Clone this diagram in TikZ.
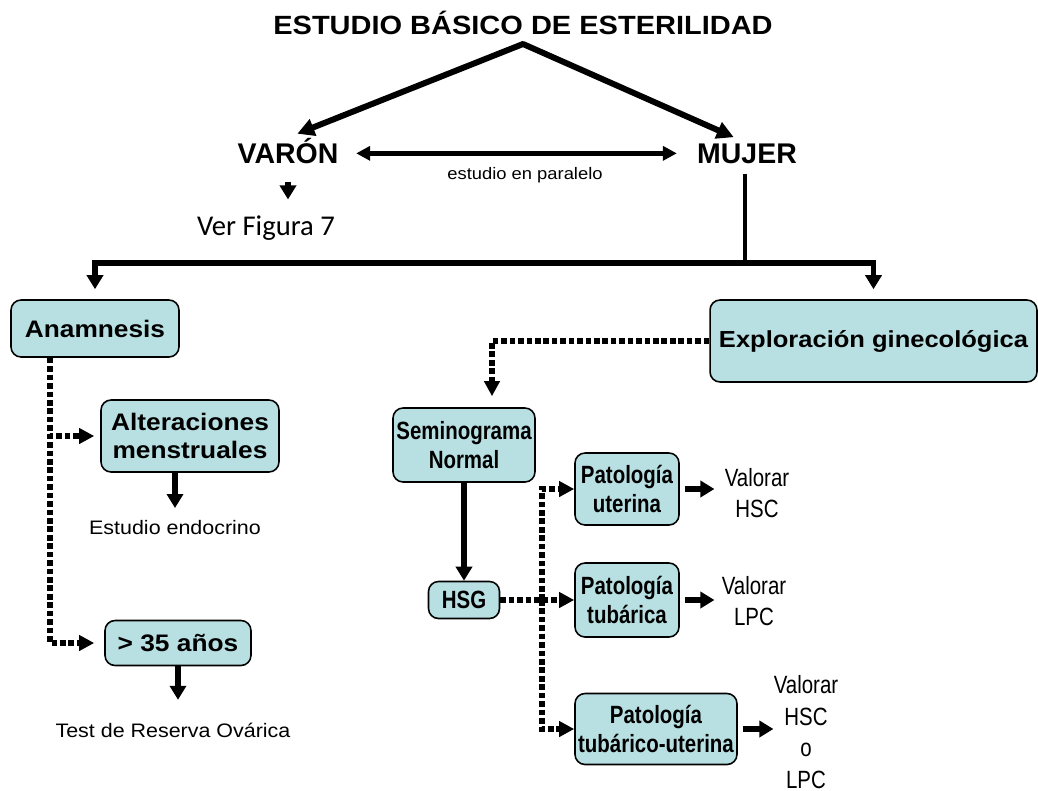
\documentclass[tikz,border=0pt]{standalone}
\usepackage{fontspec}
\setmainfont{Liberation Sans}
\newfontfamily\widesf[FakeStretch=1.1]{Liberation Sans}
\newfontfamily\narrowsf[FakeStretch=0.82]{Liberation Sans}
\newfontfamily\calib{Carlito}
\usepackage{tikz}
\usetikzlibrary{arrows.meta,positioning}
\definecolor{cajacel}{RGB}{184,224,227}

\begin{document}
\begin{tikzpicture}[x=0.02cm, y=-0.02cm,
	caja/.style={draw,rounded corners=0.2cm,fill=cajacel,line width=0.9pt,inner sep=0pt,align=center},
	izq/.style={caja,font=\widesf\bfseries\fontsize{13.6}{16.4}\selectfont},
	der/.style={caja,font=\narrowsf\bfseries\fontsize{14.2}{16.4}\selectfont},
	txt/.style={inner sep=0pt,anchor=base},
	valor/.style={inner sep=0pt,align=center,font=\narrowsf\fontsize{14.2}{18}\selectfont},
	flecha/.style={line width=3pt,-{Triangle[length=0.28cm,width=0.32cm]}},
	doble/.style={line width=3pt,{Triangle[length=0.28cm,width=0.28cm]}-{Triangle[length=0.28cm,width=0.28cm]}},
	punteada/.style={line width=3pt,dash pattern=on 3.2pt off 1.6pt,-{Triangle[length=0.3cm,width=0.3cm]}}]
	\useasboundingbox (0,0) rectangle (1038,791);
	\node[txt,font=\widesf\bfseries\fontsize{15}{18}\selectfont] (titulo) at (523,34) {ESTUDIO BÁSICO DE ESTERILIDAD};
	\node[txt,font=\bfseries\fontsize{16.2}{19}\selectfont] (varon) at (288,163) {VARÓN};
	\node[txt,font=\bfseries\fontsize{16.2}{19}\selectfont] (mujer) at (747,163) {MUJER};
	\node[txt,font=\widesf\fontsize{9.5}{11}\selectfont] (paralelo) at (525,179) {estudio en paralelo};
	\node[txt,font=\calib\fontsize{16.3}{19}\selectfont] (verfig) at (266,235) {Ver Figura 7};
	\coordinate (cima) at (523,44);
	\coordinate (bus) at (745,263);
	\node[izq,minimum width=3.36cm,minimum height=1.14cm] (anam) at (95,328.5) {Anamnesis};
	\node[izq,font=\widesf\bfseries\fontsize{13.2}{16}\selectfont,minimum width=6.54cm,minimum height=1.64cm] (explo) at (873.5,341) {Exploración ginecológica};
	\node[izq,minimum width=3.56cm,minimum height=1.44cm] (alter) at (190,436) {Alteraciones\\menstruales};
	\node[izq,minimum width=2.92cm,minimum height=0.9cm] (mayor) at (178,643) {> 35 años};
	\node[txt,font=\widesf\fontsize{11.1}{13}\selectfont] (endo) at (175,534) {Estudio endocrino};
	\node[txt,font=\widesf\fontsize{11.1}{13}\selectfont] (test) at (173,737) {Test de Reserva Ovárica};
	\node[der,minimum width=2.84cm,minimum height=1.48cm] (semi) at (464,445) {Seminograma\\Normal};
	\node[der,minimum width=1.42cm,minimum height=0.74cm] (hsg) at (464,600) {HSG};
	\node[der,minimum width=2.08cm,minimum height=1.44cm] (puter) at (627,489) {Patología\\uterina};
	\node[der,minimum width=2.08cm,minimum height=1.48cm] (putub) at (627,600) {Patología\\tubárica};
	\node[der,minimum width=3.24cm,minimum height=1.42cm] (puteru) at (656,729) {Patología\\tubárico-uterina};
	\node[valor] (vhsc) at (757,493) {Valorar\\HSC};
	\node[valor] (vlpc) at (754,601) {Valorar\\LPC};
	\node[valor] (vambos) at (806,732) {Valorar\\HSC\\o\\LPC};
	\coordinate (cruce) at (542,600);
	\draw[line width=3.4pt,line join=round,{Triangle[length=0.34cm,width=0.34cm]}-{Triangle[length=0.34cm,width=0.34cm]},shorten <=0.2cm,shorten >=0.29cm] (varon.north) -- (cima) -- (mujer.north);
	\draw[doble,shorten <=0.35cm,shorten >=0.4cm] (mujer.west -| varon.east) to (mujer.west);
	\draw[flecha,shorten <=0.36cm,shorten >=0.31cm] (varon.south) to (varon.south |- verfig.north);
	\draw[line width=2.4pt,shorten <=0.2cm] (mujer.south -| bus) to (bus);
	\draw[flecha,shorten >=0.2cm] (bus) -| (anam.north);
	\draw[flecha,shorten >=0.2cm] (bus) -| (explo.north);
	\draw[punteada,shorten >=0.22cm] (explo.west) -| ([xshift=0.56cm]semi.north);
	\draw[flecha] (semi) to (hsg);
	\draw[punteada] (hsg) to (putub);
	\draw[punteada] (cruce) |- (puter.west);
	\draw[punteada] (cruce) |- (puteru.west);
	\draw[flecha,shorten <=0.1cm,shorten >=0.2cm] (puter.east) to (puter.east -| vhsc.west);
	\draw[flecha,shorten <=0.1cm,shorten >=0.14cm] (putub.east) to (putub.east -| vlpc.west);
	\draw[flecha,shorten <=0.1cm] (puteru.east) to (puteru.east -| vambos.west);
	\draw[punteada,shorten >=0.12cm] ([xshift=-0.9cm]anam.south) |- (alter.west);
	\draw[punteada,shorten >=0.2cm] ([xshift=-0.9cm]anam.south) |- (mayor.west);
	\draw[flecha,shorten >=0.23cm] (endo.north |- alter.south) to (endo.north);
	\draw[flecha,shorten >=0.45cm] (mayor.south) to (mayor.south |- test.north);
\end{tikzpicture}
\end{document}
